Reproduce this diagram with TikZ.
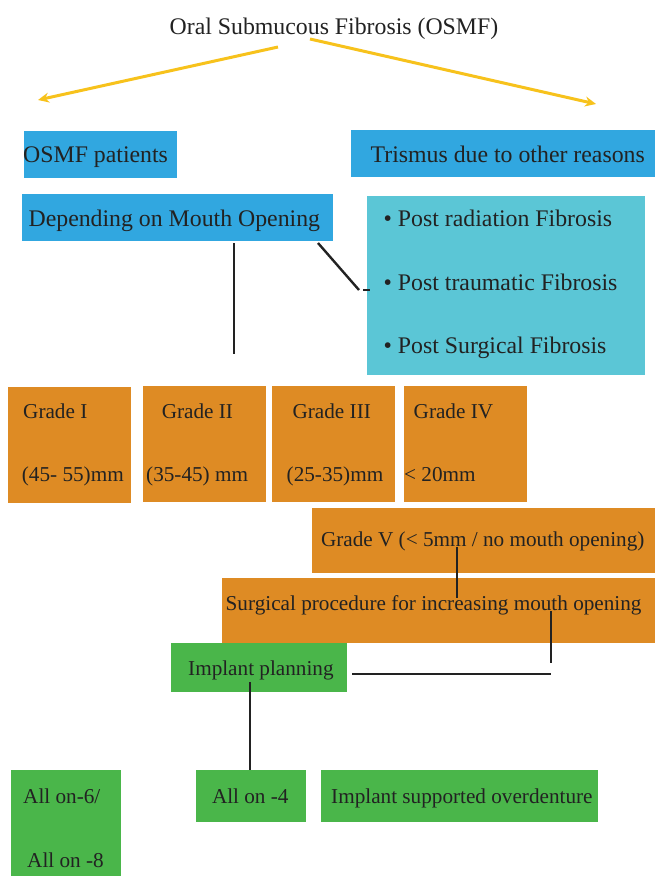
\documentclass[tikz,border=0pt]{standalone}
\usepackage{fontspec}
\setmainfont{Liberation Serif}
\usetikzlibrary{arrows.meta,calc}
\definecolor{bluebox}{RGB}{49,167,224}
\definecolor{cyanbox}{RGB}{91,198,214}
\definecolor{orangebox}{RGB}{222,139,36}
\definecolor{greenbox}{RGB}{74,182,74}
\definecolor{arrowy}{RGB}{247,194,28}
\definecolor{txt}{RGB}{34,34,34}
\begin{document}
\begin{tikzpicture}[x=1pt,y=-1pt,
  box/.style={draw=none,inner sep=0pt,outer sep=0pt,anchor=north west},
  big/.style={font=\fontsize{23.8}{28}\selectfont,text=txt,inner sep=0pt,anchor=base west},
  norm/.style={font=\fontsize{21.2}{26}\selectfont,text=txt,inner sep=0pt,anchor=base west},
  conn/.style={draw=txt,line width=2.4pt},
  yarrow/.style={draw=arrowy,line width=3pt,-{Stealth[length=11pt,width=10pt]}}]
\useasboundingbox (0,0) rectangle (655,876);
% boxes
\node[box,fill=bluebox,minimum width=153pt,minimum height=47pt] (osmf) at (24,131) {};
\node[box,fill=bluebox,minimum width=304pt,minimum height=47pt] (tris) at (351,130) {};
\node[box,fill=bluebox,minimum width=311pt,minimum height=47pt] (dep) at (22,194) {};
\node[box,fill=cyanbox,minimum width=278pt,minimum height=179pt] (bul) at (367,196) {};
\node[box,fill=orangebox,minimum width=123pt,minimum height=116pt] (g1) at (8,387) {};
\node[box,fill=orangebox,minimum width=123pt,minimum height=116pt] (g2) at (143,386) {};
\node[box,fill=orangebox,minimum width=123pt,minimum height=116pt] (g3) at (272,386) {};
\node[box,fill=orangebox,minimum width=123pt,minimum height=116pt] (g4) at (404,386) {};
\node[box,fill=orangebox,minimum width=343pt,minimum height=65pt] (g5) at (312,508) {};
\node[box,fill=orangebox,minimum width=433pt,minimum height=65pt] (surg) at (222,578) {};
\node[box,fill=greenbox,minimum width=176pt,minimum height=49pt] (impl) at (171,643) {};
\node[box,fill=greenbox,minimum width=110pt,minimum height=106pt] (a68) at (11,770) {};
\node[box,fill=greenbox,minimum width=110pt,minimum height=52pt] (a4) at (196,770) {};
\node[box,fill=greenbox,minimum width=277pt,minimum height=52pt] (ovd) at (321,770) {};
% texts
\node[big,anchor=base] (title) at (334,34) {Oral Submucous Fibrosis (OSMF)};
\node[big] (tosmf) at (23,162) {OSMF patients};
\node[big] (ttris) at (370.5,162) {Trismus due to other reasons};
\node[big] (tdep) at (28.4,226) {Depending on Mouth Opening};
\node[big] (tb1) at (383.5,226) {• Post radiation Fibrosis};
\node[big] (tb2) at (383.5,290) {• Post traumatic Fibrosis};
\node[big] (tb3) at (383.5,353) {• Post Surgical Fibrosis};
\node[norm] (tg1a) at (23,418) {Grade I};
\node[norm] (tg2a) at (161.6,418) {Grade II};
\node[norm] (tg3a) at (292.4,418) {Grade III};
\node[norm] (tg4a) at (413.5,418) {Grade IV};
\node[norm] (tg1b) at (21.7,481.5) {(45- 55)mm};
\node[norm] (tg2b) at (146,481.5) {(35-45) mm};
\node[norm] (tg3b) at (286.5,481.5) {(25-35)mm};
\node[norm] (tg4b) at (404,481.5) {< 20mm};
\node[norm] (tg5) at (320.8,546.5) {Grade V (< 5mm / no mouth opening)};
\node[norm] (tsurg) at (225.5,610) {Surgical procedure for increasing mouth opening};
\node[norm] (timpl) at (188,675) {Implant planning};
\node[norm] (ta6) at (23,803) {All on-6/};
\node[norm] (ta8) at (27,867) {All on -8};
\node[norm] (ta4) at (211.8,803) {All on -4};
\node[norm] (tovd) at (331,803) {Implant supported overdenture};
% yellow arrows
\coordinate (la0) at (278,47);
\coordinate (la1) at (38,100);
\coordinate (ra0) at (310,39);
\coordinate (ra1) at (596,104);
\draw[yarrow] (la0) -- (la1);
\draw[yarrow] (ra0) -- (ra1);
% connectors
\coordinate (v1) at (234,354);
\draw[conn] (dep.south -| v1) ++(0,2) -- (v1);
\coordinate (d1) at (318,243);
\coordinate (d2) at (359,290);
\coordinate (d3) at (363,290);
\draw[conn] (d1) -- (d2);
\draw[conn] (d3) -- ([xshift=3pt]d3 -| bul.west);
\coordinate (v5a) at (457,547);
\draw[conn] (v5a) -- (v5a |- surg.north) -- ++(0,20);
\coordinate (v6a) at (551,611);
\coordinate (v6b) at (551,663);
\draw[conn] (v6a) -- (v6b);
\coordinate (h6) at (551,674);
\draw[conn] ([xshift=5pt]impl.east |- h6) -- (h6);
\coordinate (v7a) at (250,682);
\draw[conn] (v7a) -- (v7a |- a4.north);
\end{tikzpicture}
\end{document}
